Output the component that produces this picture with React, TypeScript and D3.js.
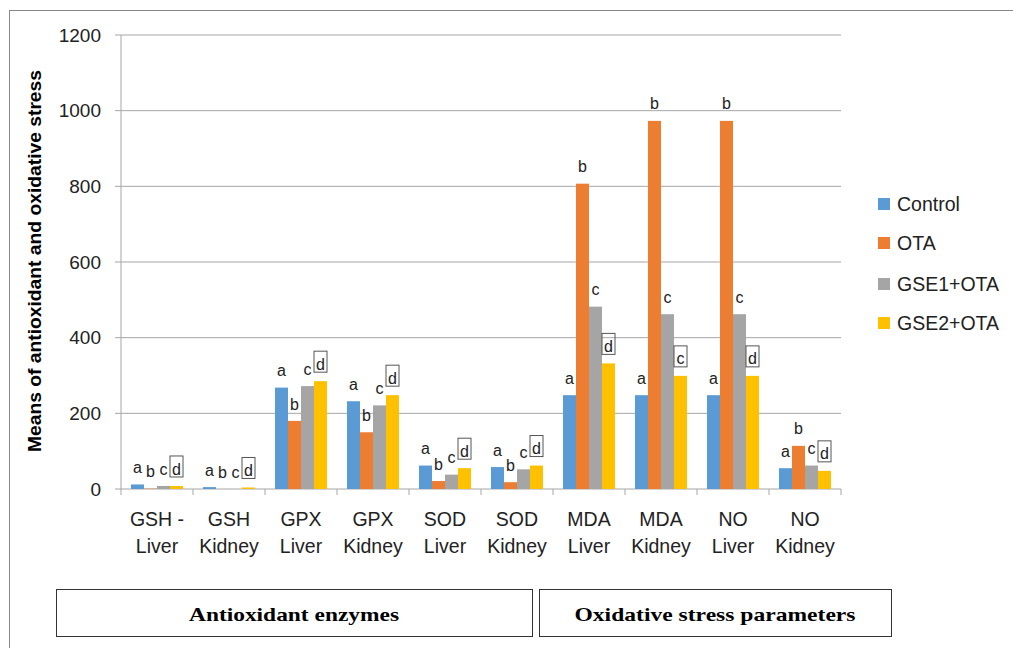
import React from "react";
import * as d3 from "d3";

const categories = ["GSH - Liver", "GSH Kidney", "GPX Liver", "GPX Kidney", "SOD Liver", "SOD Kidney", "MDA Liver", "MDA Kidney", "NO Liver", "NO Kidney"];
const catLine1 = ["GSH -", "GSH", "GPX", "GPX", "SOD", "SOD", "MDA", "MDA", "NO", "NO"];
const catLine2 = ["Liver", "Kidney", "Liver", "Kidney", "Liver", "Kidney", "Liver", "Kidney", "Liver", "Kidney"];
const seriesNames = ["Control", "OTA", "GSE1+OTA", "GSE2+OTA"];
const colors = ["#5B9BD5", "#ED7D31", "#A5A5A5", "#FFC000"];
const control = [12, 5, 268, 232, 62, 58, 248, 248, 248, 55];
const ota = [1, 0, 180, 150, 21, 18, 807, 973, 973, 114];
const gse1 = [8, 0, 272, 221, 38, 52, 482, 462, 462, 62];
const gse2 = [8, 4, 285, 248, 55, 62, 332, 299, 299, 48];
const letters = [
  ["a", "b", "c", "d"], ["a", "b", "c", "d"], ["a", "b", "c", "d"], ["a", "b", "c", "d"], ["a", "b", "c", "d"],
  ["a", "b", "c", "d"], ["a", "b", "c", "d"], ["a", "b", "c", "c"], ["a", "b", "c", "d"], ["a", "b", "c", "d"],
];
const yTicks = [0, 200, 400, 600, 800, 1000, 1200];
const groupLabels = ["Antioxidant enzymes", "Oxidative stress parameters"];

const series = [control, ota, gse1, gse2];

export default function App() {
  const left = 121, right = 841, top = 35, bottom = 489;
  const x0 = d3.scaleBand<string>().domain(categories).range([left, right]).padding(0);
  const x1 = d3.scaleBand<string>().domain(seriesNames).range([10, 62]).padding(0);
  const y = d3.scaleLinear().domain([0, 1200]).range([bottom, top]);
  const font = "'Liberation Sans', Arial, sans-serif";
  const gridColor = "#A6A6A6";
  const serif = "'Liberation Serif', 'Times New Roman', serif";

  return (
    <svg width={1013} height={648} style={{ position: "absolute", left: 0, top: 0, background: "#fff" }}>
      <rect x={9.5} y={10.5} width={1020} height={660} fill="#fff" stroke="#888" strokeWidth={1} />
      {yTicks.map((t) => (
        <g key={t}>
          {t > 0 && <line x1={left} x2={right} y1={y(t)} y2={y(t)} stroke={gridColor} strokeWidth={1} />}
          <line x1={left - 6} x2={left} y1={y(t)} y2={y(t)} stroke={gridColor} />
          <text x={101} y={y(t)} dy="0.35em" textAnchor="end" fontFamily={font} fontSize={19} fill="#222">{t}</text>
        </g>
      ))}
      <line x1={left} x2={left} y1={top} y2={bottom} stroke={gridColor} />
      <line x1={left} x2={right} y1={bottom} y2={bottom} stroke={gridColor} />
      {d3.range(categories.length + 1).map((i) => {
        const xx = i < categories.length ? x0(categories[i])! : right;
        return <line key={i} x1={xx} x2={xx} y1={bottom} y2={bottom + 6} stroke={gridColor} />;
      })}
      {categories.map((c, ci) => (
        <g key={c} transform={`translate(${x0(c)},0)`}>
          {series.map((s, si) => {
            const bx = x1(seriesNames[si])!;
            const bw = x1.bandwidth();
            const by = y(s[ci]);
            const ly = by - 17;
            const boxed = si === 3;
            return (
              <g key={si}>
                <rect x={bx} y={by} width={bw} height={bottom - by} fill={colors[si]} />
                {boxed && (
                  <rect x={bx + bw / 2 - 6.5} y={ly - 13} width={13} height={21} fill="none" stroke="#555" strokeWidth={1} />
                )}
                <text x={bx + bw / 2} y={ly} dy="0.35em" textAnchor="middle" fontFamily={font} fontSize={16} fill="#222">
                  {letters[ci][si]}
                </text>
              </g>
            );
          })}
          <text x={x0.bandwidth() / 2} y={519} dy="0.35em" textAnchor="middle" fontFamily={font} fontSize={19.5} fill="#222">{catLine1[ci]}</text>
          <text x={x0.bandwidth() / 2} y={546} dy="0.35em" textAnchor="middle" fontFamily={font} fontSize={19.5} fill="#222">{catLine2[ci]}</text>
        </g>
      ))}
      <text transform="translate(35,261) rotate(-90)" textAnchor="middle" dy="0.35em" fontFamily={font} fontWeight="bold" fontSize={18} textLength={382} lengthAdjust="spacingAndGlyphs" fill="#000">
        Means of antioxidant and oxidative stress
      </text>
      {seriesNames.map((n, i) => {
        const ly = [204, 243, 284, 323][i];
        return (
          <g key={n}>
            <rect x={878} y={ly - 6} width={12} height={12} fill={colors[i]} />
            <text x={897} y={ly} dy="0.35em" fontFamily={font} fontSize={19.5} fill="#222">{n}</text>
          </g>
        );
      })}
      {[[56, 532, 210], [539, 891, 281]].map(([a, b, tl], i) => (
        <g key={i}>
          <rect x={a + 0.5} y={589.5} width={b - a} height={47} fill="#fff" stroke="#333" strokeWidth={1} />
          <text x={(a + b) / 2} y={614} dy="0.35em" textAnchor="middle" fontFamily={serif} fontWeight="bold" fontSize={19} textLength={tl} lengthAdjust="spacingAndGlyphs" fill="#000">
            {groupLabels[i]}
          </text>
        </g>
      ))}
    </svg>
  );
}
